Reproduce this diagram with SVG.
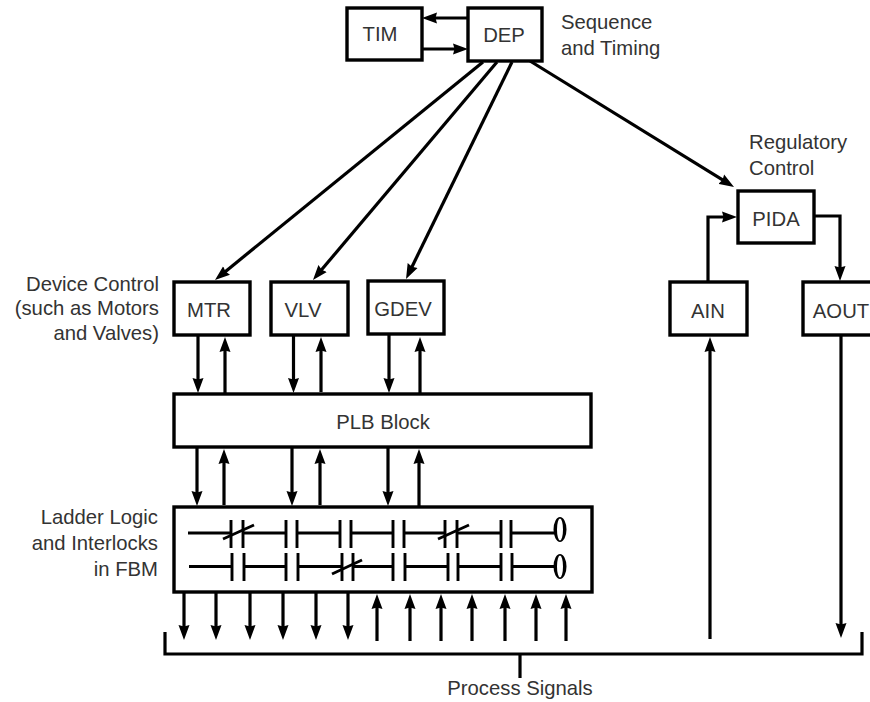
<svg xmlns="http://www.w3.org/2000/svg" width="870" height="702" viewBox="0 0 870 702">
<style>
text{font-family:"Liberation Sans",Arial,sans-serif;font-size:20.3px;fill:#333}
.m{text-anchor:middle}
.r{text-anchor:end}
.b{fill:#fff;stroke:#000;stroke-width:3.4}
.c{fill:none;stroke:#000;stroke-width:3.2}
.a{marker-end:url(#h)}
.l{fill:none;stroke:#000;stroke-width:2.9}
.k{fill:#000;fill-rule:evenodd}
</style>
<defs>
<marker id="h" markerUnits="userSpaceOnUse" markerWidth="16" markerHeight="12" refX="3" refY="6" orient="auto">
<path d="M0 .5L15 6L0 11.500L1.500 6Z" fill="#000"/>
</marker>
</defs>
<g id="connectors">
<path class="c a" d="M468 18H434"/>
<path class="c a" d="M422 49H456"/>
<path class="c a" d="M483 62L224.300 272.400"/>
<path class="c a" d="M497 62L320.700 270.800"/>
<path class="c a" d="M512 62L411.300 268.200"/>
<path class="c a" d="M530 61L723.800 180.700"/>
<path class="c a" d="M708 282V217H725"/>
<path class="c a" d="M814 216H840V269"/>
<path class="c a" d="M198 335V381"/>
<path class="c a" d="M225 394V349"/>
<path class="c a" d="M293.500 335V381"/>
<path class="c a" d="M321 392V349"/>
<path class="c a" d="M389 335V381"/>
<path class="c a" d="M420 394V349"/>
<path class="c a" d="M197 447V494"/>
<path class="c a" d="M224 505V461"/>
<path class="c a" d="M292 447V494"/>
<path class="c a" d="M320 505V461"/>
<path class="c a" d="M388 447V494"/>
<path class="c a" d="M419 507V461"/>
<path class="c a" d="M184 592V628"/>
<path class="c a" d="M216 592V628"/>
<path class="c a" d="M250 592V628"/>
<path class="c a" d="M283 592V628"/>
<path class="c a" d="M316 592V628"/>
<path class="c a" d="M348 592V628"/>
<path class="c a" d="M377 641V606"/>
<path class="c a" d="M410 641V606"/>
<path class="c a" d="M441 641V606"/>
<path class="c a" d="M472 641V606"/>
<path class="c a" d="M505 641V606"/>
<path class="c a" d="M536 641V606"/>
<path class="c a" d="M566 641V606"/>
<path class="c a" d="M710 639V349"/>
<path class="c a" d="M841 335V626"/>
<path class="c" d="M165 632V654H862V632"/>
<path class="c" d="M520 654V678"/>
</g>
<g id="TIM"><rect class="b" x="347" y="8" width="75" height="52"/><text class="m" x="380" y="41">TIM</text></g>
<g id="DEP"><rect class="b" x="468" y="8" width="74" height="53"/><text class="m" x="504" y="42">DEP</text></g>
<g id="MTR"><rect class="b" x="174" y="282" width="76" height="53"/><text class="m" x="209" y="317">MTR</text></g>
<g id="VLV"><rect class="b" x="271" y="282" width="77" height="53"/><text class="m" x="303" y="317">VLV</text></g>
<g id="GDEV"><rect class="b" x="368" y="281" width="76" height="53"/><text class="m" x="403" y="316">GDEV</text></g>
<g id="PLB"><rect class="b" x="174" y="394" width="417" height="53"/><text class="m" x="383" y="429">PLB Block</text></g>
<g id="PIDA"><rect class="b" x="738" y="191" width="76" height="52"/><text class="m" x="776" y="226">PIDA</text></g>
<g id="AIN"><rect class="b" x="670" y="282" width="77" height="53"/><text class="m" x="708" y="318">AIN</text></g>
<g id="AOUT"><rect class="b" x="803" y="282" width="70" height="53"/><text class="m" x="841" y="318">AOUT</text></g>
<g id="FBM">
<rect class="b" x="174" y="507" width="418" height="85"/>
<path class="l" d="M188 533H231M243 533H286M297 533H340M351 533H393M404 533H445M457 533H501M511 533H554"/>
<path class="l" d="M231 520V548M243 520V548M286 520V548M297 520V548M340 520V548M351 520V548M393 520V548M404 520V548M445 520V548M457 520V548M501 520V548M511 520V548"/>
<path class="l" d="M223 539L254 525M438 539L469 525"/>
<path class="k" d="M560 517A6.500 12.500 0 0 1 560 542A6.500 12.500 0 0 1 560 517ZM560 518.500A3 11 0 0 0 560 540.500A3 11 0 0 0 560 518.500Z"/>
<path class="l" d="M189 566.500H232M244 566.500H286M298 566.500H342M353 566.500H393M405 566.500H448M458 566.500H501M512 566.500H554"/>
<path class="l" d="M232 553V581M244 553V581M286 553V581M298 553V581M342 553V581M353 553V581M393 553V581M405 553V581M448 553V581M458 553V581M501 553V581M512 553V581"/>
<path class="l" d="M332 574L362 560"/>
<path class="k" d="M560 554A6.500 12.500 0 0 1 560 579A6.500 12.500 0 0 1 560 554ZM560 555.500A3 11 0 0 0 560 577.500A3 11 0 0 0 560 555.500Z"/>
</g>
<g id="labels">
<text x="561" y="29">Sequence</text>
<text x="561" y="55">and Timing</text>
<text x="749" y="149">Regulatory</text>
<text x="749" y="175">Control</text>
<text class="r" x="159" y="291">Device Control</text>
<text class="r" x="159" y="315">(such as Motors</text>
<text class="r" x="159" y="340">and Valves)</text>
<text class="r" x="158" y="524">Ladder Logic</text>
<text class="r" x="158" y="550">and Interlocks</text>
<text class="r" x="158" y="576">in FBM</text>
<text class="m" x="520" y="695">Process Signals</text>
</g>
</svg>
